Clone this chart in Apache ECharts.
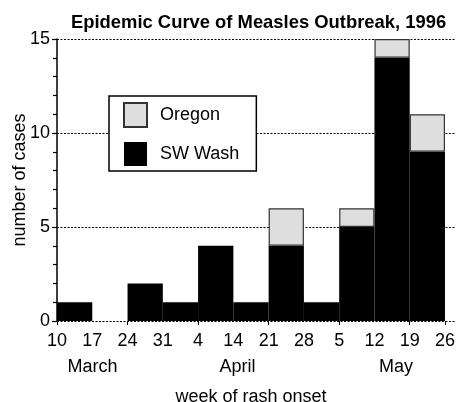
<!DOCTYPE html>
<html>
<head>
<meta charset="utf-8">
<script src="https://cdn.jsdelivr.net/npm/echarts@6/dist/echarts.min.js"></script>
<style>
html,body{margin:0;padding:0;background:#fff;}
#chart{width:456px;height:402px;}
</style>
</head>
<body>
<div id="chart"></div>
<script>
const titleText = 'Epidemic Curve of Measles Outbreak, 1996';
const weeks = ['Mar 10','Mar 17','Mar 24','Mar 31','Apr 4','Apr 14','Apr 21','Apr 28','May 5','May 12','May 19'];
const tickLabels = ['10','17','24','31','4','14','21','28','5','12','19','26'];
const monthLabels = ['March','April','May'];
const swWash = [1, 0, 2, 1, 4, 1, 4, 1, 5, 14, 9];
const oregon = [null, null, null, null, null, null, 2, null, 1, 1, 2];
const yTicks = [0, 5, 10, 15];

const FONT = '"Liberation Sans", Arial, Helvetica, sans-serif';
const chart = echarts.init(document.getElementById('chart'), null, {renderer: 'canvas'});

const monthX = [92.5, 237.5, 396];
const option = {
  animation: false,
  backgroundColor: '#fff',
  textStyle: {fontFamily: FONT, color: '#000'},
  title: {
    text: titleText,
    left: 66, top: 9,
    textStyle: {fontFamily: FONT, fontSize: 18.4, fontWeight: 'bold', color: '#000'}
  },
  legend: {
    data: ['Oregon', 'SW Wash'],
    orient: 'vertical',
    left: 109, top: 96,
    backgroundColor: '#fff',
    borderColor: '#000',
    borderWidth: 1.5,
    borderRadius: 0,
    padding: [6, 17, 5, 14],
    itemWidth: 23, itemHeight: 24, itemGap: 14,
    icon: 'rect',
    textStyle: {fontFamily: FONT, fontSize: 18, color: '#000', padding: [0, 0, 0, 8]}
  },
  grid: [
    {left: 57, right: 0, top: 39, bottom: 81, outerBoundsMode: 'none', containLabel: false},
    {left: 57, right: 11, top: 39, bottom: 81, outerBoundsMode: 'none', containLabel: false}
  ],
  xAxis: [
    {gridIndex: 0, type: 'value', min: 0, max: 1, show: false},
    {gridIndex: 1, type: 'category', data: weeks, boundaryGap: true,
     axisLine: {show: false},
     axisTick: {show: true, length: 4, lineStyle: {color: '#000', width: 1}},
     axisLabel: {show: false}, splitLine: {show: false}},
    {gridIndex: 1, type: 'value', min: 0, max: tickLabels.length - 1, interval: 1, position: 'bottom',
     axisLine: {show: false}, axisTick: {show: false}, splitLine: {show: false},
     axisLabel: {show: true, margin: 11, fontFamily: FONT, fontSize: 18, color: '#000',
       showMinLabel: true, showMaxLabel: true,
       formatter: v => tickLabels[Math.round(v)] || ''},
     name: 'week of rash onset', nameLocation: 'middle', nameGap: 67, nameMoveOverlap: false,
     nameTextStyle: {fontFamily: FONT, fontSize: 18, color: '#000'}}
  ],
  yAxis: [
    {gridIndex: 0, type: 'value', min: yTicks[0], max: yTicks[yTicks.length - 1], interval: yTicks[1] - yTicks[0],
     axisLine: {show: true, lineStyle: {color: '#000', width: 1.5}},
     axisTick: {show: true, length: 5, lineStyle: {color: '#000', width: 1.2}},
     minorTick: {show: true, splitNumber: 5, length: 4, lineStyle: {color: '#000', width: 1.2}},
     axisLabel: {margin: 7, fontFamily: FONT, fontSize: 18, color: '#000'},
     splitLine: {show: true, lineStyle: {color: '#000', width: 1, type: [2, 1.5]}},
     name: 'number of cases', nameLocation: 'middle', nameGap: 28, nameMoveOverlap: false,
     nameTextStyle: {fontFamily: FONT, fontSize: 18, color: '#000'}},
    {gridIndex: 1, type: 'value', min: yTicks[0], max: yTicks[yTicks.length - 1], show: false}
  ],
  series: [
    {name: 'SW Wash', type: 'bar', stack: 'cases', xAxisIndex: 1, yAxisIndex: 1,
     barCategoryGap: '0%', data: swWash,
     itemStyle: {color: '#000', borderWidth: 0}},
    {name: 'Oregon', type: 'bar', stack: 'cases', xAxisIndex: 1, yAxisIndex: 1,
     barCategoryGap: '0%', data: oregon,
     itemStyle: {color: '#dedede', borderColor: '#333', borderWidth: 1.2}}
  ],
  graphic: monthLabels.map((m, i) => ({
    type: 'text', x: monthX[i], y: 367,
    style: {text: m, fontFamily: FONT, fontSize: 18, fill: '#000', align: 'center', verticalAlign: 'middle'}
  }))
};
chart.setOption(option);
</script>
</body>
</html>
